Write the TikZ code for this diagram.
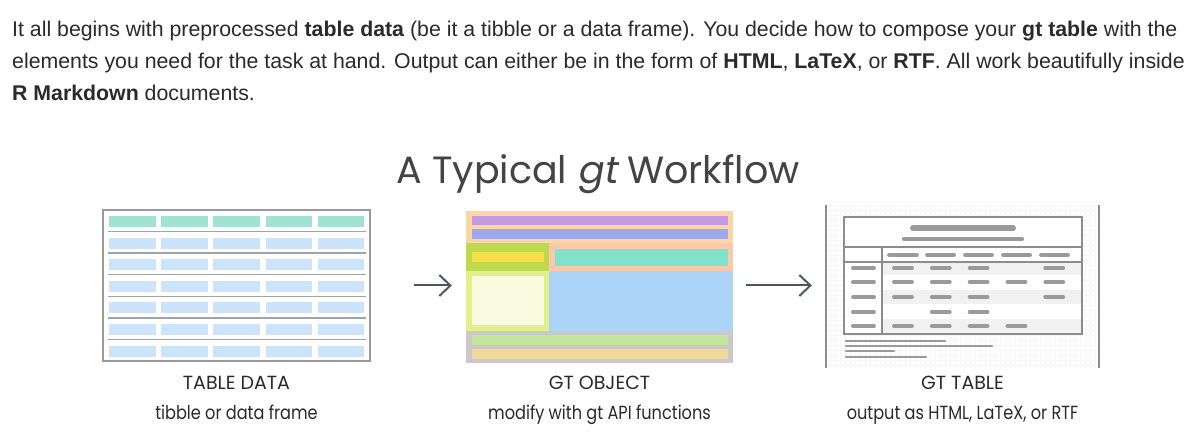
\documentclass[tikz,border=0pt]{standalone}
\usepackage{fontspec}
\usetikzlibrary{arrows.meta}
\setmainfont{Liberation Sans}
\newfontfamily\titlefont{Poppins}
\newfontfamily\titleslant{Poppins}[FakeSlant=0.18]
\newfontfamily\capfont{Poppins}
\newfontfamily\labelfont{Poppins}[FakeStretch=0.85]
\definecolor{txt}{HTML}{2A2A2A}
\definecolor{ttl}{HTML}{444444}
\definecolor{tdborder}{HTML}{9A9A9A}
\definecolor{tdhead}{HTML}{A0E3D0}
\definecolor{tdcell}{HTML}{CBE3FB}
\definecolor{tdline}{HTML}{A3A3A3}
\definecolor{arrowc}{HTML}{4B5863}
\definecolor{peach}{HTML}{FAD6A5}
\definecolor{purp}{HTML}{C59AE0}
\definecolor{peri}{HTML}{9DA8EC}
\definecolor{stubg}{HTML}{BDD94C}
\definecolor{yell}{HTML}{F6E04A}
\definecolor{salm}{HTML}{F9C9A9}
\definecolor{teal}{HTML}{80E2CB}
\definecolor{lgreen}{HTML}{E2F08C}
\definecolor{cream}{HTML}{F9FAE0}
\definecolor{lblue}{HTML}{ABD4F8}
\definecolor{gbot}{HTML}{C9C9C9}
\definecolor{gbar}{HTML}{C4E69B}
\definecolor{tbar}{HTML}{F2D99A}
\definecolor{gtline}{HTML}{8C8C8C}
\definecolor{gtbar}{HTML}{9A9A9A}
\definecolor{stripe}{HTML}{F1F1F1}
\definecolor{gridc}{HTML}{F6F6F6}
\tikzset{
  bodytext/.style={anchor=base west, inner sep=0pt, text=txt, font=\fontsize{21.3}{25}\selectfont},
  captext/.style={anchor=base, inner sep=0pt, text=txt, font=\capfont\fontsize{19}{22}\selectfont},
  labeltext/.style={anchor=base, inner sep=0pt, text=txt, font=\labelfont\fontsize{19}{22}\selectfont},
  arr/.style={draw=arrowc, line width=2pt, -{Straight Barb[length=11pt,width=21pt,line width=2pt]}},
  bar/.style={draw=gtbar, line cap=round, line width=3.8pt},
  fbar/.style={draw=gtbar, line cap=round, line width=2.6pt},
  gtl/.style={draw=gtline, line width=1.5pt},
}
\begin{document}
\begin{tikzpicture}[x=1pt,y=-1pt]
\useasboundingbox[fill=white] (0,0) rectangle (1200,443);
% paragraph
\node[bodytext] (p1) at (12,37) {It all begins with preprocessed \textbf{table data} (be it a tibble or a data frame). You decide how to compose your \textbf{gt table} with the};
\node[bodytext] (p2) at (12,69) {elements you need for the task at hand. Output can either be in the form of \textbf{HTML}, \textbf{LaTeX}, or \textbf{RTF}. All work beautifully inside};
\node[bodytext] (p3) at (12,101) {\textbf{R Markdown} documents.};
% title
\node[anchor=base, inner sep=0pt, text=ttl, font=\titlefont\fontsize{38}{44}\selectfont] (title) at (598,184) {A Typical {\titleslant gt} Workflow};
% ---------- TABLE DATA ----------
\node[rectangle, inner sep=0pt, minimum width=267pt, minimum height=151pt, draw=tdborder, line width=2.5pt] (td) at (236.5,285.5) {};
\foreach \i in {0,...,4} {
  \fill[tdhead] (109+52.2*\i,216) rectangle ++(46.5,11);
  \foreach \r in {1,...,6} {
    \fill[tdcell] (109+52.2*\i,216+21.6*\r) rectangle ++(46.5,11);
  }
}
\foreach \r in {0,...,5} {
  \draw[tdline, line width=1.3pt] (108,231.5+21.6*\r) -- (366,231.5+21.6*\r);
}
% ---------- GT OBJECT ----------
\node[rectangle, inner sep=0pt, minimum width=267pt, minimum height=152pt] (go) at (599.5,287) {};
\fill[peach] (466,211) rectangle (733,243);
\fill[purp] (472,216) rectangle (728,225);
\fill[peri] (472,229) rectangle (728,239);
\fill[stubg] (466,243) rectangle (549,271);
\fill[yell] (472,252) rectangle (544,262);
\fill[salm] (549,243) rectangle (733,271);
\fill[teal] (555,249) rectangle (728,266);
\fill[lgreen] (466,271) rectangle (549,331);
\fill[cream] (472,276) rectangle (544,325);
\fill[lblue] (549,271) rectangle (733,331);
\fill[gbot] (466,331) rectangle (733,363);
\fill[gbar] (472,335) rectangle (728,345);
\fill[tbar] (472,349) rectangle (728,359);
% ---------- GT TABLE ----------
\node[rectangle, inner sep=0pt, minimum width=273pt, minimum height=163pt] (gtt) at (962.5,286.5) {};
\begin{scope}
\clip (826,205) rectangle (1099,368);
\draw[gridc, line width=0.5pt] (826,205) grid[step=5pt] (1099,368);
\end{scope}
\draw[gtline, line width=1.5pt] (gtt.north west) -- (gtt.south west);
\draw[gtline, line width=1.5pt] (gtt.north east) -- (gtt.south east);
\fill[white] (844,217) rectangle (1082,334);
\fill[stripe] (882,262) rectangle (1082,275);
\fill[stripe] (882,290) rectangle (1082,304);
\fill[stripe] (882,319) rectangle (1082,334);
\draw[gtl] (844,217) rectangle (1082,334);
\draw[gtl] (844,247) -- (1082,247);
\draw[gtl] (844,262) -- (1082,262);
\draw[gtl] (882,247) -- (882,334);
\draw[bar, line width=6pt] (913,228.5) -- (1013,228.5);
\draw[bar, line width=4.2pt] (904,239) -- (1022,239);
\foreach \a/\b in {889/917,927/954,965/992,1003/1030,1041/1068} {
  \draw[bar] (\a,255) -- (\b,255);
}
\foreach \y in {268,282,297,312,326} {
  \draw[bar] (853,\y) -- (874,\y);
}
\foreach \y/\cols in {268/{1,2,3,5},282/{1,2,3,4,5},297/{1,2,3,5},312/{2,3},326/{1,2,3,4}} {
  \foreach \c in \cols {
    \draw[bar] (894+37.8*\c-37.8,\y) -- (912+37.8*\c-37.8,\y);
  }
}
\draw[fbar] (846,341) -- (945,341);
\draw[fbar] (846,346) -- (992,346);
\draw[fbar] (846,351) -- (894,351);
\draw[fbar] (846,357) -- (926,357);
% ---------- arrows ----------
\draw[arr, shorten <=43pt, shorten >=14pt] (td.east) -- (td.east -| go.west);
\draw[arr, shorten <=13pt, shorten >=14pt] (go.east |- td.east) -- (td.east -| gtt.west);
% ---------- labels ----------
\node[captext] (l1a) at (td.south |- 0,390) {TABLE DATA};
\node[labeltext] (l1b) at (td.south |- 0,420) {tibble or data frame};
\node[captext] (l2a) at (go.south |- 0,390) {GT OBJECT};
\node[labeltext] (l2b) at (go.south |- 0,420) {modify with gt API functions};
\node[captext] (l3a) at (gtt.south |- 0,390) {GT TABLE};
\node[labeltext] (l3b) at (gtt.south |- 0,420) {output as HTML, LaTeX, or RTF};
\end{tikzpicture}
\end{document}
